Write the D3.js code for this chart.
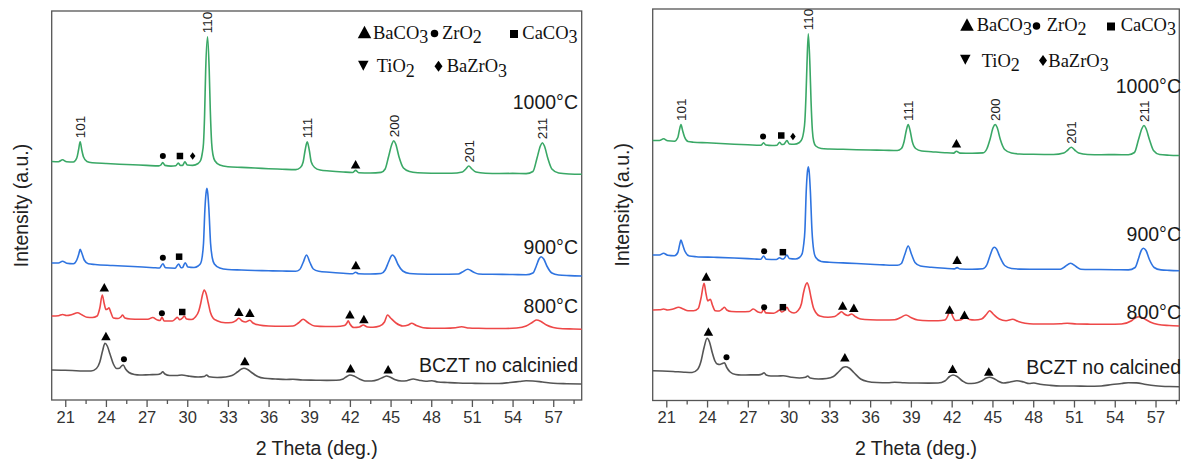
<!DOCTYPE html>
<html><head><meta charset="utf-8">
<script src="https://cdn.jsdelivr.net/npm/d3@7"></script>
<style>body{margin:0;background:#fff}svg{display:block}</style>
</head><body>
<svg id="c" width="1183" height="460"></svg>
<script>
// ---------------- DATA ----------------
const majorTicks = [21,24,27,30,33,36,39,42,45,48,51,54,57];
const minorTicks = [22.5,25.5,28.5,31.5,34.5,37.5,40.5,43.5,46.5,49.5,52.5,55.5,58.5];
const xTitle = "2 Theta (deg.)";
const yTitle = "Intensity (a.u.)";
const legendNames = [["BaCO","3"],["ZrO","2"],["CaCO","3"],["TiO","2"],["BaZrO","3"]];
const legendSymbols = ["triangle","circle","square","down","diamond"];
const seriesColors = ["#3aa866","#2f74e0","#ee4848","#555555"];
const leftLabels = ["1000°C","900°C","800°C","BCZT no calcinied"];
const rightLabels = ["1000°C","900°C","800°C","BCZT no calcined"];

// left panel patterns [2θ, intensity]
const left1000 = [[20.0,238.5],[20.5,238.3],[20.8,240.2],[21.1,238.2],[21.6,238.0],[21.85,242],[21.98,250],[22.1,258.3],[22.22,250],[22.35,243],[22.6,238.5],[23.0,237.3],[24.0,236.5],[25.0,235.8],[26.0,235.2],[27.0,234.6],[27.9,234.1],[28.05,235],[28.19,237.5],[28.35,234.6],[28.8,233.9],[29.15,234.2],[29.34,237.0],[29.5,234.5],[29.65,234.6],[29.83,238.3],[30.0,235],[30.4,234.6],[30.8,236.5],[31.0,240],[31.1,246],[31.2,257],[31.28,285],[31.36,330],[31.5,363.3],[31.62,330],[31.7,290],[31.8,257],[31.9,245],[32.05,239],[32.4,235],[33.0,233.3],[34.0,232.6],[35.0,232],[36.0,231.3],[37.0,230.8],[38.0,230.4],[38.35,232.5],[38.55,238],[38.7,250],[38.85,258.3],[39.0,250],[39.15,238],[39.4,232.5],[39.8,230],[40.5,229],[41.5,228],[42.2,227.5],[42.42,229.6],[42.65,227.3],[43.5,227],[44.3,227.6],[44.6,231],[44.85,243.3],[45.1,256],[45.24,259.3],[45.38,256],[45.62,243.3],[45.95,232],[46.4,228.5],[47.0,227.3],[48.0,226.8],[49.5,226.7],[50.3,228],[50.55,231],[50.77,234],[51.0,231],[51.3,228],[52.0,226.8],[53.0,226.5],[54.0,226.6],[55.0,226.4],[55.5,228.5],[55.8,241.7],[56.05,254],[56.2,257.3],[56.35,254],[56.6,241.7],[56.9,231],[57.4,227],[58.2,226],[59.1,225.7]];
const left900 = [[20.0,137],[20.5,137],[20.8,138.8],[21.1,136.8],[21.6,136.3],[21.85,140],[22.0,146],[22.1,150.7],[22.22,147],[22.4,140],[22.7,136.3],[23.2,135.5],[24.5,134.5],[26.0,133.5],[27.5,132.3],[27.95,132],[28.2,136.2],[28.4,132.2],[29.1,131.8],[29.36,136],[29.55,132.3],[29.65,132.5],[29.85,137.3],[30.05,133],[30.5,132.5],[30.8,134],[31.0,137],[31.1,143],[31.2,156.7],[31.3,190],[31.38,206],[31.45,211.7],[31.52,206],[31.6,190],[31.72,156.7],[31.85,142],[32.0,136],[32.4,132],[33.0,130.5],[34.0,130],[35.0,129.5],[36.0,129.2],[37.0,129],[38.0,128.8],[38.3,130.5],[38.55,137.5],[38.8,145],[39.05,137.5],[39.3,131],[39.7,128.8],[40.5,127.8],[41.5,126.8],[42.2,126.2],[42.42,127.8],[42.65,126.2],[43.5,126],[44.3,126.5],[44.6,130],[44.85,138],[45.05,144],[45.15,145],[45.3,143],[45.55,135.5],[45.9,129],[46.4,126.5],[47.0,126],[48.5,125.8],[50.0,126],[50.3,128],[50.7,130.8],[51.1,128],[51.5,126],[52.5,125.7],[54.0,125.5],[55.0,125.2],[55.5,127],[55.75,134],[55.95,141],[56.1,143.3],[56.3,141],[56.55,133.5],[56.9,127],[57.4,125],[58.2,124.4],[59.1,124]];
const left800 = [[20.0,84],[20.5,84.3],[20.8,85.5],[21.1,84.5],[21.5,85.5],[21.9,87.3],[22.25,85],[22.6,82.7],[23.0,82.5],[23.35,84],[23.55,92],[23.73,105],[23.88,96],[24.0,90.5],[24.12,91],[24.23,92.3],[24.35,88],[24.55,82],[24.9,81.5],[25.1,83],[25.23,85],[25.4,82],[25.8,81],[26.5,80.7],[27.1,80.7],[27.45,82.5],[27.8,80],[28.0,79.5],[28.13,82.7],[28.3,79],[28.9,79],[29.15,81.5],[29.26,82.7],[29.45,80.3],[29.65,82],[29.78,84],[29.95,81],[30.3,80.5],[30.6,83],[30.85,89],[31.0,97],[31.12,105],[31.25,110],[31.4,106],[31.55,97],[31.7,88],[31.9,82],[32.2,79.3],[32.8,77.3],[33.3,77.5],[33.6,79.5],[33.81,81.7],[34.05,79],[34.3,78],[34.62,79.8],[34.85,77],[35.3,75],[36.0,74],[37.0,73.7],[37.8,74],[38.2,77],[38.55,80.7],[38.9,77.5],[39.4,74],[40.2,73.5],[41.0,73.5],[41.6,74.5],[41.78,77],[41.87,79.3],[42.0,76],[42.3,72.5],[42.7,73],[42.98,75],[43.3,73],[43.7,72.8],[44.2,74],[44.55,78],[44.78,85],[45.0,82],[45.4,77],[45.9,74],[46.3,75],[46.55,76.7],[46.9,74.5],[47.4,72.3],[48.0,71.8],[49.0,71.8],[49.8,72.3],[50.24,73.2],[50.8,72],[51.5,71.7],[52.5,71.5],[53.5,71.5],[54.3,72],[55.0,74],[55.5,78],[55.77,80],[56.1,78.5],[56.5,75],[57.0,72.5],[57.7,71.3],[58.5,71],[59.1,70.7]];
const leftRaw = [[20.0,30],[20.7,29.8],[21.5,29.5],[22.3,29],[22.9,29],[23.3,31.5],[23.55,38],[23.75,49],[23.93,56.7],[24.1,54],[24.3,46],[24.55,36],[24.79,31.5],[25.0,31.8],[25.15,34],[25.28,35],[25.45,31],[25.7,27.5],[26.1,25.5],[26.5,25],[27.2,25.3],[27.8,25.5],[28.05,26.5],[28.19,28.2],[28.35,26],[28.7,24.5],[29.2,24.5],[29.6,25],[30.2,23.7],[30.8,23],[31.25,23.5],[31.43,25],[31.6,23.2],[32.2,22.5],[32.8,23],[33.3,24.5],[33.7,28],[34.0,31],[34.18,31.7],[34.45,30.5],[34.8,27],[35.2,23.5],[35.7,21.7],[36.5,21],[37.3,20.5],[37.8,20.8],[38.5,20],[39.5,19.8],[40.3,19.6],[41.0,19.7],[41.5,21],[41.8,23.8],[42.0,25],[42.3,24],[42.7,21],[43.1,19],[43.6,19],[44.1,20.5],[44.5,23],[44.7,24],[44.95,23],[45.3,20.5],[45.8,19],[46.2,19.3],[46.67,21],[47.1,19.8],[47.6,18.7],[48.05,19.3],[48.5,18],[49.2,17.5],[50.0,17],[51.0,16.7],[52.0,16.5],[53.0,16.5],[53.8,17.5],[54.5,18.5],[55.0,19.2],[55.5,19],[56.2,18],[57.0,16.8],[58.0,16.3],[59.1,16]];

// right panel patterns
const right1000 = [[20.0,260],[20.5,260],[20.8,261.7],[21.1,259.7],[21.6,259.3],[21.85,263],[21.96,270],[22.08,276],[22.2,270],[22.33,264],[22.6,259],[23.0,258.3],[24.0,257.7],[25.0,257],[26.0,256.3],[27.0,255.8],[27.9,255.2],[28.0,255.5],[28.16,257.8],[28.32,255.5],[28.8,255],[29.15,255.3],[29.34,258.3],[29.5,256],[29.65,256.2],[29.88,260],[30.05,256.5],[30.4,256.2],[30.8,258],[31.0,262],[31.1,268],[31.2,280],[31.28,305],[31.35,335],[31.45,366.7],[31.57,335],[31.65,300],[31.75,270],[31.85,259],[32.0,254.5],[32.4,252],[33.0,251.5],[34.0,251.2],[35.0,250.8],[36.0,250.5],[37.0,250.3],[38.0,250],[38.3,252],[38.5,259],[38.66,270],[38.8,276],[38.94,270],[39.1,259],[39.35,252],[39.8,249.5],[40.5,248.8],[41.5,247.8],[42.15,247.4],[42.35,249.3],[42.6,247.4],[43.5,247.2],[44.3,247.6],[44.6,252],[44.82,261],[45.05,273],[45.2,276],[45.35,273],[45.58,261],[45.9,251],[46.4,247.5],[47.0,246.5],[48.0,246.2],[49.5,246],[50.25,247.5],[50.55,250.5],[50.8,253.3],[51.05,250.5],[51.35,247.5],[52.0,246],[53.0,245.8],[54.0,245.9],[55.0,245.7],[55.45,248],[55.75,261],[56.0,272],[56.15,275],[56.3,272],[56.55,261],[56.85,250],[57.3,246],[58.0,245.3],[58.75,245]];
const right900 = [[20.0,145.5],[20.5,145.5],[20.8,147.2],[21.1,145.3],[21.6,144.8],[21.85,148],[21.97,155],[22.08,160.5],[22.2,156],[22.38,149],[22.7,144.5],[23.2,143.8],[24.5,143.2],[26.0,142.5],[27.5,141.5],[27.95,141.2],[28.16,144.5],[28.35,141.3],[29.1,141],[29.34,142.8],[29.52,141.5],[29.65,141.8],[29.88,145.5],[30.05,142],[30.5,141.5],[30.8,143],[31.0,147],[31.1,155],[31.2,170],[31.3,210],[31.38,228],[31.45,233.8],[31.52,228],[31.6,210],[31.72,170],[31.85,150],[32.0,143],[32.4,139],[33.0,138.2],[34.0,137.6],[35.0,137],[36.0,136.3],[37.0,135.6],[38.0,135.2],[38.3,137],[38.55,146],[38.8,154.5],[39.05,146],[39.3,138],[39.7,134.5],[40.5,133.3],[41.5,132.2],[42.2,131.6],[42.4,132.9],[42.62,131.5],[43.5,131.3],[44.3,131.8],[44.6,136],[44.85,146],[45.05,152.5],[45.15,153.2],[45.3,151.5],[45.55,143.5],[45.9,135],[46.4,132],[47.0,131.4],[48.5,131.2],[50.0,131.3],[50.35,134],[50.75,137.2],[51.15,134],[51.5,131.3],[52.5,131],[54.0,130.8],[55.0,130.6],[55.5,133],[55.75,142],[55.95,150],[56.1,152.2],[56.3,150],[56.55,141],[56.9,133],[57.4,130.6],[58.0,130.1],[58.75,129.8]];
const right800 = [[20.0,90.5],[20.5,90.7],[20.8,91.5],[21.1,90.5],[21.5,91.5],[21.9,93.2],[22.25,91.5],[22.6,89.8],[23.0,89.7],[23.35,92],[23.55,102],[23.78,117.2],[23.92,107],[24.05,99.5],[24.15,100.5],[24.25,101.2],[24.38,96],[24.6,89.8],[24.9,89.5],[25.12,91.5],[25.28,93.2],[25.45,90.5],[25.8,89],[26.5,88.8],[27.1,89],[27.4,91.5],[27.75,88.5],[28.0,87.8],[28.16,91.2],[28.32,87.6],[28.9,87.3],[29.2,89.3],[29.34,90.5],[29.5,88.5],[29.7,90],[29.88,93.2],[30.05,89.5],[30.4,87.5],[30.7,90],[30.95,97],[31.1,108],[31.25,115.5],[31.36,117.8],[31.5,113],[31.65,103],[31.82,93],[32.0,88],[32.3,84.5],[32.9,83.3],[33.4,84],[33.7,87],[33.9,88.8],[34.1,86.5],[34.35,85],[34.64,86.5],[34.9,84],[35.3,81.5],[36.0,80.7],[37.0,80.5],[37.8,80.8],[38.25,83],[38.64,85.5],[39.0,83],[39.5,80.5],[40.3,79.8],[41.0,79.7],[41.5,80.5],[41.75,86],[41.89,92.2],[42.05,85],[42.3,80],[42.7,80.8],[43.0,83.2],[43.3,81],[43.7,80.5],[44.2,81.5],[44.55,86],[44.79,89.8],[45.05,86.5],[45.5,81.5],[46.0,79.8],[46.48,81.2],[46.9,79],[47.4,77.3],[48.0,76.5],[49.0,76.5],[50.0,76.8],[50.5,77.3],[51.2,76.5],[52.2,76.3],[53.5,76.2],[54.5,76.5],[55.2,79.5],[55.5,82.5],[55.8,83.8],[56.15,82],[56.6,78.5],[57.2,76],[58.0,75],[58.75,74.5]];
const rightRaw = [[20.0,29.8],[20.7,29.5],[21.5,29],[22.3,28.3],[22.9,28],[23.3,31],[23.55,39],[23.78,53],[24.0,62.2],[24.18,58.5],[24.38,48],[24.58,39.5],[24.75,36.5],[24.95,36],[25.12,37],[25.28,37.8],[25.45,33],[25.7,28.5],[26.1,26],[26.5,25.5],[27.2,25.6],[27.8,25.6],[28.05,26.5],[28.2,27.8],[28.35,25.5],[28.7,24.5],[29.2,24.5],[29.6,24.8],[30.2,23.3],[30.8,22.5],[31.25,23.2],[31.4,24.5],[31.58,22.5],[32.2,21.5],[32.8,22],[33.3,24],[33.7,29],[34.0,33],[34.2,33.8],[34.45,32.5],[34.8,28],[35.3,21.5],[35.8,19],[36.5,18],[37.3,17.8],[37.8,18.3],[38.5,17.8],[39.5,17.5],[40.3,17.4],[41.0,17.5],[41.5,19.5],[41.85,24],[42.1,25.5],[42.4,24],[42.8,19.5],[43.2,17],[43.7,17.3],[44.2,19.5],[44.55,22.5],[44.8,23.2],[45.05,22.3],[45.4,19.5],[45.8,17.5],[46.3,18.5],[46.8,19.8],[47.3,18.5],[47.7,17],[48.05,17.5],[48.5,16.3],[49.2,15.2],[50.0,14.5],[51.0,14.5],[52.0,14.3],[53.0,14.5],[53.8,16],[54.5,17],[55.0,17.8],[55.6,17.6],[56.3,16],[57.0,14.8],[58.0,14],[58.75,13.8]];

// phase markers [symbol, 2θ, intensity]
const leftMarkers = [["circle",28.2,244],["square",29.46,244],["diamond",30.4,244],["triangle",42.42,235.7],
  ["circle",28.2,142.3],["square",29.4,143.3],["triangle",42.44,135],
  ["triangle",23.88,112.7],["circle",28.13,86.7],["square",29.63,88],["triangle",33.81,88.3],["triangle",34.62,87.3],["triangle",42.0,85.7],["triangle",43.03,81],
  ["triangle",24.0,64],["circle",25.33,40.7],["triangle",34.25,39],["triangle",42.05,31.7],["triangle",44.82,30.7]];
const rightMarkers = [["circle",28.12,264],["square",29.46,265],["diamond",30.32,264],["triangle",42.35,257.3],
  ["circle",28.2,149.3],["square",29.58,148.3],["triangle",42.4,140.7],
  ["triangle",23.94,124],["circle",28.2,93.3],["square",29.58,93.3],["triangle",33.98,95],["triangle",34.8,92.7],["triangle",41.85,91],["triangle",42.94,85.7],
  ["triangle",24.1,69],["circle",25.43,43.3],["triangle",34.14,43.3],["triangle",42.07,31.7],["triangle",44.73,29]];

// Miller indices [label, 2θ, peak intensity]
const leftHkl = [["101",22.1,258.3],["110",31.5,363.3],["111",38.85,258.3],["200",45.24,259.3],["201",50.77,234],["211",56.2,257.3]];
const rightHkl = [["101",22.08,276],["110",31.45,366.7],["111",38.8,276],["200",45.2,276],["201",50.8,253.3],["211",56.15,275]];

// ---------------- LAYOUT ----------------
const panels = [
  {x:[51.7,581.7], y:[400,11], xDomain:[20,59.1], yDomain:[0,389],
   series:[left1000,left900,left800,leftRaw], labels:leftLabels, markers:leftMarkers, hkl:leftHkl,
   labelRight:578, labelY:[109,253.5,313.3,371.7], yTitleX:27.5,
   legend:{base:[38.5,72], sym:[[364.5,32],[434.5,33.6],[514,34],[363.3,65.7],[438.5,66.2]], text:[373,442,522.3,376.7,446.7]}},
  {x:[652.7,1179.3], y:[400.5,9], xDomain:[20,58.75], yDomain:[0,391.5],
   series:[right1000,right900,right800,rightRaw], labels:rightLabels, markers:rightMarkers, hkl:rightHkl,
   labelRight:1181, labelY:[92.7,240.7,319.3,374], yTitleX:628.5,
   legend:{base:[30.7,66.7], sym:[[967,24.5],[1036.5,26],[1111,26.5],[965.3,59.7],[1043,60.5]], text:[976.7,1046.7,1120.7,981.7,1048.3]}}
];

const svg = d3.select("#c");
const sans = "Arial, 'Liberation Sans', Helvetica, sans-serif";
const serif = "'Times New Roman', 'Liberation Serif', serif";

function symPath(type, w, h){
  if(type==="triangle") return `M0,${-h/2}L${w/2},${h/2}L${-w/2},${h/2}Z`;
  if(type==="down") return `M${-w/2},${-h/2}L${w/2},${-h/2}L0,${h/2}Z`;
  if(type==="diamond") return `M0,${-h/2}L${w/2},0L0,${h/2}L${-w/2},0Z`;
  if(type==="square") return `M${-w/2},${-h/2}h${w}v${h}h${-w}Z`;
  const r=w/2; return `M${r},0A${r},${r} 0 1,1 ${-r},0A${r},${r} 0 1,1 ${r},0Z`;
}
const markerSize = {triangle:[9.5,8.5], circle:[6,6], square:[6.5,6.5], diamond:[5.5,7.5], down:[9,8.5]};
const legendSize = {triangle:[13.5,12.5], circle:[7.5,7.5], square:[8,8], diamond:[8,11], down:[10.5,10]};

panels.forEach(p=>{
  const x = d3.scaleLinear().domain(p.xDomain).range(p.x);
  const y = d3.scaleLinear().domain(p.yDomain).range(p.y);
  const g = svg.append("g");

  g.append("rect").attr("x",p.x[0]).attr("y",p.y[1]).attr("width",p.x[1]-p.x[0]).attr("height",p.y[0]-p.y[1])
    .attr("fill","none").attr("stroke","#555").attr("stroke-width",1.3);

  const ax = g.append("g").attr("transform",`translate(0,${p.y[0]})`)
    .call(d3.axisBottom(x).tickValues(majorTicks).tickFormat(d3.format("d")).tickSize(7).tickPadding(4));
  ax.select(".domain").remove();
  ax.selectAll(".tick line").attr("stroke","#555").attr("stroke-width",1.3);
  ax.selectAll(".tick text").attr("font-family",sans).attr("font-size",16.5).attr("fill","#333");
  const mx = g.append("g").attr("transform",`translate(0,${p.y[0]})`)
    .call(d3.axisBottom(x).tickValues(minorTicks).tickFormat("").tickSize(4));
  mx.select(".domain").remove();
  mx.selectAll(".tick line").attr("stroke","#555").attr("stroke-width",1.3);

  g.append("text").attr("x",(p.x[0]+p.x[1])/2).attr("y",455).attr("text-anchor","middle")
    .attr("font-family",sans).attr("font-size",19.5).attr("fill","#222").text(xTitle);
  g.append("text").attr("transform",`translate(${p.yTitleX},${(p.y[0]+p.y[1])/2}) rotate(-90)`)
    .attr("text-anchor","middle").attr("font-family",sans).attr("font-size",19.5).attr("fill","#222").text(yTitle);

  const line = d3.line().x(d=>x(d[0])).y(d=>y(d[1])).curve(d3.curveMonotoneX);
  p.series.forEach((s,i)=>{
    g.append("path").datum(s).attr("d",line).attr("fill","none")
      .attr("stroke",seriesColors[i]).attr("stroke-width",1.6).attr("stroke-linejoin","round");
  });

  p.labels.forEach((t,i)=>{
    g.append("text").attr("x",p.labelRight).attr("y",p.labelY[i]).attr("text-anchor","end")
      .attr("font-family",sans).attr("font-size",19.5).attr("fill","#1a1a1a").text(t);
  });

  g.selectAll("path.mk").data(p.markers).enter().append("path").attr("class","mk")
    .attr("transform",d=>`translate(${x(d[1])},${y(d[2])})`)
    .attr("d",d=>symPath(d[0],markerSize[d[0]][0],markerSize[d[0]][1])).attr("fill","#000");

  p.hkl.forEach(h=>{
    g.append("text").attr("transform",`translate(${x(h[1])},${y(h[2])-3.5}) rotate(-90)`)
      .attr("dy","0.36em").attr("text-anchor","start").attr("font-family",sans).attr("font-size",13.5)
      .attr("fill","#222").text(h[0]);
  });

  legendNames.forEach((n,i)=>{
    const s = legendSymbols[i];
    const sp = p.legend.sym[i];
    g.append("path").attr("transform",`translate(${sp[0]},${sp[1]})`)
      .attr("d",symPath(s,legendSize[s][0],legendSize[s][1])).attr("fill","#000");
    const base = p.legend.base[i<3?0:1];
    const t = g.append("text").attr("x",p.legend.text[i]).attr("y",base)
      .attr("font-family",serif).attr("font-size",18.5).attr("fill","#111");
    t.append("tspan").text(n[0]);
    t.append("tspan").attr("dy",4.5).attr("font-size",18).text(n[1]);
  });
});
</script>
</body></html>
